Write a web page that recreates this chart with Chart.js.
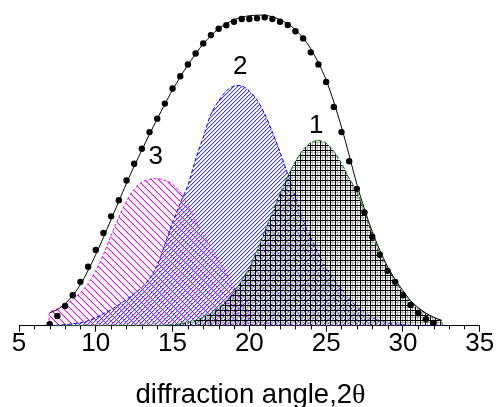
<!DOCTYPE html>
<html>
<head>
<meta charset="utf-8">
<script src="https://cdn.jsdelivr.net/npm/chart.js@4.4.1/dist/chart.umd.min.js"></script>
<style>
  html, body { margin: 0; padding: 0; background: #fff; }
  #chart { display: block; }
</style>
</head>
<body>
<canvas id="chart" width="498" height="407"></canvas>
<script>
/* ===============================
   DATA
=============================== */
// x positions of the fitted components (2θ)
const compX = [6.99, 7, 7.5, 8, 8.5, 9, 9.5, 10, 10.5, 11, 11.5, 12, 12.5, 13, 13.5, 14, 14.5, 15, 15.5, 16, 16.5,
  17, 17.5, 18, 18.5, 19, 19.5, 20, 20.5, 21, 21.5, 22, 22.5, 23, 23.5, 24, 24.5, 25, 25.5, 26, 26.5,
  27, 27.5, 28, 28.5, 29, 29.5, 30, 30.5, 31, 31.5, 32, 32.5, 32.55, 32.56];

// peak 3 (magenta)
const peak3 = [0, 13, 17, 21, 26, 33, 42, 55, 71, 90, 108, 124, 136, 143, 146, 146.5, 145, 141, 133, 120, 104,
  91, 78, 65, 52, 38, 23, 10, 5, 2.5, 1.5, 1, 0.5, 0, 0, 0, 0, 0, 0, 0, 0,
  0, 0, 0, 0, 0, 0, 0, 0, 0, 0, 0, 0, 0, 0];

// peak 2 (blue)
const peak2 = [0, 0, 0.5, 1, 2, 3, 5, 8, 12, 16, 21, 26, 32, 38, 47, 60, 81, 103, 122, 140, 166,
  188, 211, 224, 234, 239, 239, 234, 225, 211, 193, 173, 151, 128, 106, 88, 72, 58, 46, 36, 27,
  19, 13, 9, 5, 3, 2, 1, 0.5, 0, 0, 0, 0, 0, 0];

// peak 1 (grid)
const peak1 = [0, 0, 0, 0, 0, 0, 0, 0, 0, 0, 0, 0, 0, 0, 0, 0, 0.5, 1, 2, 3.5, 5.5,
  8.5, 12.5, 18, 25, 34, 45, 58, 75, 94, 113, 132, 149, 164, 175.5, 182.5, 184.7, 182, 174, 162, 147,
  134, 113, 91, 72, 58, 45, 33, 24, 17, 12, 8, 5, 4.6, 0];

// fitted envelope
const fitX = [7, 7.5, 8, 8.5, 9, 9.5, 10, 10.5, 11, 11.5, 12, 12.5, 13, 13.5, 14, 14.5, 15, 15.5, 16, 16.5,
  17, 17.5, 18, 18.5, 19, 19.5, 20, 20.5, 21, 21.5, 22, 22.5, 23, 23.5, 24, 24.5, 25, 25.5, 26, 26.5,
  27, 27.5, 28, 28.5, 29, 29.5, 30, 30.5, 31, 31.5, 32, 32.5, 32.55];
const fitY = [13, 16, 22, 30, 41, 55, 71, 88, 106, 124, 142, 159, 175, 191, 206, 221, 235, 248, 260, 271,
  281, 289, 296, 301, 305, 307.5, 309, 309.5, 309.5, 308, 305, 301, 295, 287, 276, 262, 245, 223, 198, 170,
  141, 116, 94, 75, 59, 46, 35, 25, 18, 12.5, 8.5, 5.5, 5];

// measured points
const measX = [7, 7.5, 8, 8.5, 9, 9.5, 10, 10.5, 11, 11.5, 12, 12.5, 13, 13.5, 14, 14.5, 15, 15.5, 16, 16.5,
  17, 17.5, 18, 18.5, 19, 19.5, 20, 20.5, 21, 21.5, 22, 22.5, 23, 23.5, 24, 24.5, 25, 25.5, 26, 26.5,
  27, 27.5, 28, 28.5, 29, 29.5, 30, 30.5, 31, 31.5, 32];
const measY = [1.4, 9.7, 19.7, 30.4, 43.7, 58.7, 75.4, 92.4, 109, 125, 144.7, 161.4, 176.4, 193, 206.4, 221.4, 236.4, 248.7, 260.4, 271.4,
  281.4, 289.7, 296, 299.5, 303, 305.7, 305.7, 306.4, 307.4, 305.7, 303, 299.7, 293.5, 286.4, 272.5, 260.5, 243, 218, 193, 164,
  136.4, 113, 88.7, 70.7, 54.7, 43.7, 30.4, 20.7, 12.4, 6.4, 2.7];

// peak number labels
const peakNames = ['1', '2', '3'];
const peakNameX = [24.36, 19.4, 13.9];
const peakNameY = [199.7, 258, 168.4];

const xTicks = [5, 10, 15, 20, 25, 30, 35];
const xTitle = ['diffraction angle,2', 'θ'];

/* ===============================
   HELPERS
=============================== */
const FONT = 'Arial, "Liberation Sans", sans-serif';
const SERIF = '"Liberation Serif", "DejaVu Serif", serif';
const pts = (xs, ys) => xs.map((x, i) => ({ x, y: ys[i] }));

// diagonal hatch tile: a solid pixel line plus a soft fringe
function diagPattern(color, fringe, size, rising) {
  const c = document.createElement('canvas');
  c.width = c.height = size;
  const g = c.getContext('2d');
  for (let i = 0; i < size; i++) {
    const y = rising ? size - 1 - i : i;
    g.fillStyle = fringe;
    g.fillRect(i, (y + 1) % size, 1, 1);
    g.fillStyle = color;
    g.fillRect(i, y, 1, 1);
  }
  return g.createPattern(c, 'repeat');
}

function gridPattern(size) {
  const c = document.createElement('canvas');
  c.width = c.height = size;
  const g = c.getContext('2d');
  g.fillStyle = '#b4b4b4';
  g.fillRect(2, 0, 1, size);
  g.fillRect(0, 2, size, 1);
  g.fillStyle = '#000';
  g.fillRect(0, 0, 1, size);
  g.fillRect(0, 0, size, 1);
  return g.createPattern(c, 'repeat');
}

/* ===============================
   PLUGINS
=============================== */
const minorTicks = {
  id: 'minorTicks',
  afterDraw(chart) {
    const xs = chart.scales.x;
    const ctx = chart.ctx;
    const y0 = chart.chartArea.bottom;
    ctx.save();
    ctx.strokeStyle = '#000';
    ctx.lineWidth = 1;
    ctx.beginPath();
    for (let v = xs.min; v <= xs.max; v++) {
      if (v % 5 === 0) continue;
      const px = Math.round(xs.getPixelForValue(v)) + 0.5;
      ctx.moveTo(px, y0);
      ctx.lineTo(px, y0 + 3.7);
    }
    ctx.stroke();
    ctx.restore();
  }
};

// axis title in two fonts (sans text + serif theta)
const axisTitle = {
  id: 'axisTitle',
  afterDraw(chart) {
    const ctx = chart.ctx;
    const a = chart.chartArea;
    ctx.save();
    ctx.fillStyle = '#000';
    ctx.textBaseline = 'alphabetic';
    ctx.textAlign = 'left';
    ctx.font = '27.5px ' + FONT;
    const w1 = ctx.measureText(xTitle[0]).width;
    ctx.font = '28px ' + SERIF;
    const w2 = ctx.measureText(xTitle[1]).width;
    const x0 = 250.5 - (w1 + w2) / 2;
    const yb = a.bottom + 77;
    ctx.font = '27.5px ' + FONT;
    ctx.fillText(xTitle[0], x0, yb);
    ctx.font = '28px ' + SERIF;
    ctx.fillText(xTitle[1], x0 + w1, yb);
    ctx.restore();
  }
};

const peakLabels = {
  id: 'peakLabels',
  afterDatasetsDraw(chart) {
    const ctx = chart.ctx;
    ctx.save();
    ctx.fillStyle = '#000';
    ctx.font = '26px ' + FONT;
    ctx.textAlign = 'center';
    ctx.textBaseline = 'middle';
    peakNames.forEach((t, i) => {
      ctx.fillText(t, chart.scales.x.getPixelForValue(peakNameX[i]), chart.scales.y.getPixelForValue(peakNameY[i]));
    });
    ctx.restore();
  }
};

/* ===============================
   CHART
=============================== */
const common = { pointRadius: 0, borderWidth: 1, tension: 0.3, fill: 'origin' };

new Chart(document.getElementById('chart'), {
  type: 'line',
  data: {
    datasets: [
      { data: pts(measX, measY), showLine: false, pointRadius: 3.2, pointBackgroundColor: '#000', pointBorderWidth: 0, fill: false },
      { data: pts(fitX, fitY), borderColor: '#000', borderWidth: 1, pointRadius: 0, tension: 0.3, fill: false },
      { ...common, data: pts(compX, peak1), borderColor: '#008000', borderDash: [4, 2], backgroundColor: gridPattern(5) },
      { ...common, data: pts(compX, peak2), borderColor: '#0000ff', borderDash: [4, 2], backgroundColor: diagPattern('#3c3cff', '#c4c4ff', 4, true) },
      { ...common, data: pts(compX, peak3), borderColor: '#ff00ff', borderDash: [3, 2], backgroundColor: diagPattern('#ff00ff', '#ffb4ff', 7, false) }
    ]
  },
  options: {
    responsive: false,
    animation: false,
    devicePixelRatio: 1,
    layout: { padding: { left: 19, right: 18.3, top: 4.7, bottom: 50.3 } },
    plugins: { legend: { display: false }, tooltip: { enabled: false } },
    scales: {
      x: {
        type: 'linear',
        min: 5,
        max: 35,
        afterBuildTicks: s => { s.ticks = xTicks.map(v => ({ value: v })); },
        ticks: { color: '#000', font: { family: FONT, size: 26, lineHeight: 1 }, padding: -0.5, maxRotation: 0 },
        grid: { drawOnChartArea: false, tickLength: 6, color: '#000', tickWidth: 1 },
        border: { color: '#000', width: 1 },
        title: { display: false }
      },
      y: { display: false, min: 0, max: 320 }
    }
  },
  plugins: [minorTicks, peakLabels, axisTitle]
});
</script>
</body>
</html>
